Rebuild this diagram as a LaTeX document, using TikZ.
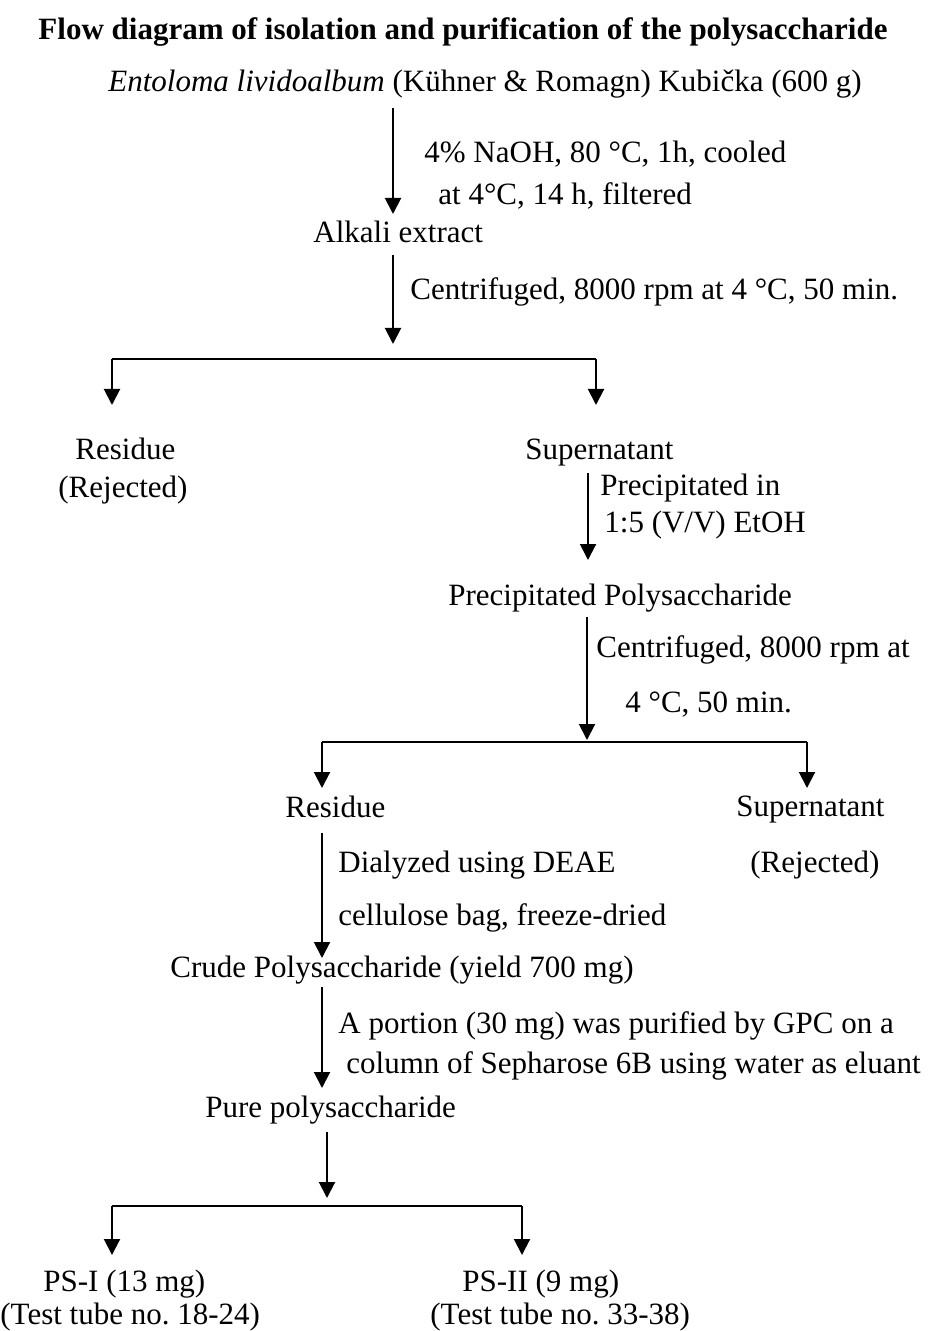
\documentclass[tikz,border=0pt]{standalone}
\usepackage{fontspec}
\setmainfont{Liberation Serif}
\usetikzlibrary{arrows.meta}
\frenchspacing
\begin{document}
\begin{tikzpicture}[x=0.5pt,y=-0.5pt,
  txt/.style={inner sep=0pt, anchor=base west, font=\fontsize{15.5}{18}\selectfont},
  flow/.style={line width=1pt, -{Triangle[length=8pt,width=8pt]}},
  bar/.style={line width=1pt}]
\useasboundingbox (0,0) rectangle (927,1331);

% heading and starting material
\node[txt, anchor=base, font=\fontsize{15.5}{18}\selectfont\bfseries] (title) at (463,40)
  {Flow diagram of isolation and purification of the polysaccharide};
\node[txt] (src) at (108,92) {\textit{Entoloma lividoalbum} (Kühner \& Romagn) Kubička (600 g)};

% alkali extraction
\coordinate (a1s) at (393,108);
\coordinate (a1e) at (393,214);
\draw[flow] (a1s) -- (a1e);
\node[txt] (c1a) at (424,163) {4\% NaOH, 80 °C, 1h, cooled};
\node[txt] (c1b) at (438,205) {at 4°C, 14 h, filtered};
\node[txt] (alk) at (313,243) {Alkali extract};

% first centrifugation
\coordinate (a2s) at (393,255);
\coordinate (a2e) at (393,344);
\draw[flow] (a2s) -- (a2e);
\node[txt] (c2) at (410,300) {Centrifuged, 8000 rpm at 4 °C, 50 min.};
\coordinate (j1l) at (112,359);
\coordinate (j1r) at (596,359);
\coordinate (t1l) at (112,405);
\coordinate (t1r) at (596,405);
\draw[bar] (j1l) -- (j1r);
\draw[flow] (j1l) -- (t1l);
\draw[flow] (j1r) -- (t1r);
\node[txt] (res1) at (75,459) {Residue};
\node[txt] (rej1) at (58,497) {(Rejected)};
\node[txt] (sup1) at (525,459) {Supernatant};

% ethanol precipitation
\coordinate (a3s) at (588,473);
\coordinate (a3e) at (588,560);
\draw[flow] (a3s) -- (a3e);
\node[txt] (c3a) at (600,495) {Precipitated in};
\node[txt] (c3b) at (604,532) {1:5 (V/V) EtOH};
\node[txt] (pp) at (448,605) {Precipitated Polysaccharide};

% second centrifugation
\coordinate (a4s) at (587,617);
\coordinate (a4e) at (587,740);
\draw[flow] (a4s) -- (a4e);
\node[txt] (c4a) at (596,657) {Centrifuged, 8000 rpm at};
\node[txt] (c4b) at (625,712) {4 °C, 50 min.};
\coordinate (j2l) at (322,742);
\coordinate (j2r) at (807,742);
\coordinate (t2l) at (322,788);
\coordinate (t2r) at (807,788);
\draw[bar] (j2l) -- (j2r);
\draw[flow] (j2l) -- (t2l);
\draw[flow] (j2r) -- (t2r);
\node[txt] (res2) at (285,817) {Residue};
\node[txt] (sup2) at (736,816) {Supernatant};
\node[txt] (rej2) at (750,872) {(Rejected)};

% dialysis
\coordinate (a5s) at (322,833);
\coordinate (a5e) at (322,958);
\draw[flow] (a5s) -- (a5e);
\node[txt] (c5a) at (338,872) {Dialyzed using DEAE};
\node[txt] (c5b) at (338,925) {cellulose bag, freeze-dried};
\node[txt] (crude) at (170,977) {Crude Polysaccharide (yield 700 mg)};

% gel permeation
\coordinate (a6s) at (322,987);
\coordinate (a6e) at (322,1088);
\draw[flow] (a6s) -- (a6e);
\node[txt] (c6a) at (338,1033) {A portion (30 mg) was purified by GPC on a};
\node[txt] (c6b) at (346,1073) {column of Sepharose 6B using water as eluant};
\node[txt] (pure) at (205,1117) {Pure polysaccharide};

% fractions
\coordinate (a7s) at (327,1132);
\coordinate (a7e) at (327,1198);
\draw[flow] (a7s) -- (a7e);
\coordinate (j3l) at (112,1206);
\coordinate (j3r) at (522,1206);
\coordinate (t3l) at (112,1255);
\coordinate (t3r) at (522,1255);
\draw[bar] (j3l) -- (j3r);
\draw[flow] (j3l) -- (t3l);
\draw[flow] (j3r) -- (t3r);
\node[txt] (ps1) at (43,1291) {PS-I (13 mg)};
\node[txt] (tt1) at (0,1324) {(Test tube no. 18-24)};
\node[txt] (ps2) at (462,1291) {PS-II (9 mg)};
\node[txt] (tt2) at (430,1324) {(Test tube no. 33-38)};
\end{tikzpicture}
\end{document}
